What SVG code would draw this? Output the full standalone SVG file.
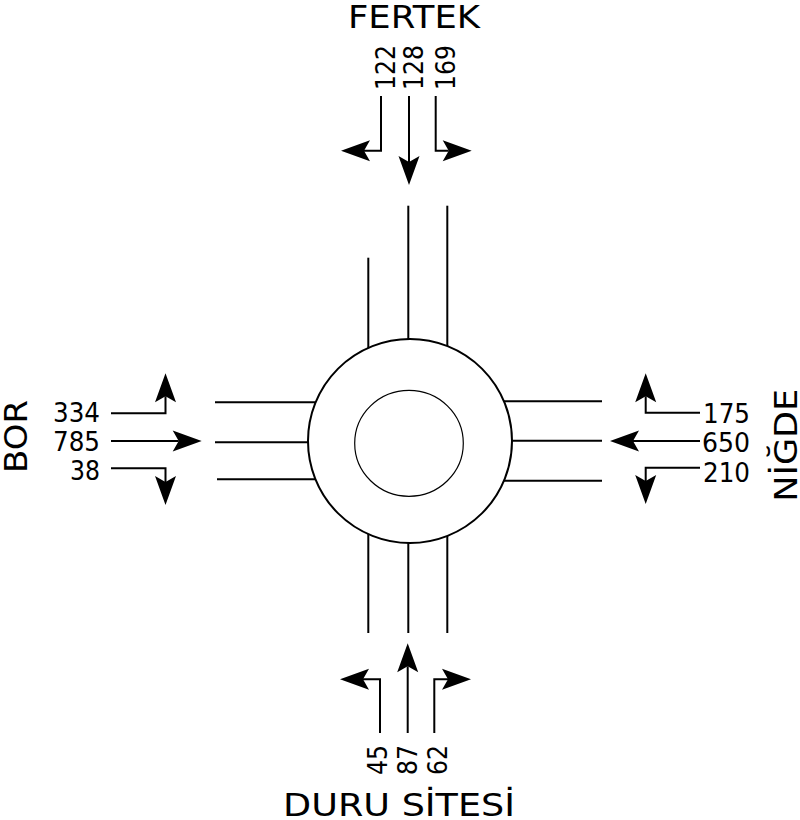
<svg xmlns="http://www.w3.org/2000/svg" width="800" height="820" viewBox="0 0 800 820">
<style>
.road{stroke:#000;stroke-width:2;fill:none}
.flow{stroke:#000;stroke-width:2;fill:none;marker-end:url(#ah)}
.lbl{font-family:"DejaVu Sans","Liberation Sans",sans-serif;font-size:32px;fill:#000}
.num{font-family:"DejaVu Sans","Liberation Sans",sans-serif;font-size:27px;fill:#000}
</style>
<defs>
<marker id="ah" markerUnits="userSpaceOnUse" viewBox="-8 -12 34 24" refX="0" refY="0" markerWidth="34" markerHeight="24" orient="auto" overflow="visible">
<path d="M23,0 L-6,-10.5 L0,0 L-6,10.5 Z" fill="#000"/>
</marker>
</defs>
<rect width="800" height="820" fill="#fff"/>

<g id="roads">
<line class="road" x1="368.3" y1="257.7" x2="368.3" y2="348"/>
<line class="road" x1="408.3" y1="205.7" x2="408.3" y2="340"/>
<line class="road" x1="447.3" y1="205.7" x2="447.3" y2="346.5"/>
<line class="road" x1="368.3" y1="534" x2="368.3" y2="633"/>
<line class="road" x1="408.3" y1="542" x2="408.3" y2="633"/>
<line class="road" x1="447.3" y1="535.5" x2="447.3" y2="633"/>
<line class="road" x1="215" y1="402.3" x2="316" y2="402.3"/>
<line class="road" x1="215" y1="442.3" x2="309" y2="442.3"/>
<line class="road" x1="217" y1="479.3" x2="316" y2="479.3"/>
<line class="road" x1="504" y1="401.3" x2="602" y2="401.3"/>
<line class="road" x1="511" y1="440.7" x2="602" y2="440.7"/>
<line class="road" x1="504" y1="480.7" x2="602" y2="480.7"/>
</g>

<g id="roundabout">
<circle cx="410" cy="441" r="102" fill="#fff" stroke="#000" stroke-width="2"/>
<ellipse cx="409" cy="443.3" rx="54.3" ry="53" fill="#fff" stroke="#000" stroke-width="1.2"/>
</g>

<g id="connectors">
<path class="flow" d="M381,96 V150.7 H364"/>
<path class="flow" d="M409,96 V162"/>
<path class="flow" d="M435.7,96 V150.7 H448.7"/>
<path class="flow" d="M111,413.3 H165.5 V396.3"/>
<path class="flow" d="M111,441 H178.7"/>
<path class="flow" d="M111,468.3 H165.5 V482"/>
<path class="flow" d="M700,412.7 H645.7 V396.3"/>
<path class="flow" d="M700,441 H633"/>
<path class="flow" d="M700,467.7 H645.7 V481"/>
<path class="flow" d="M380,733 V679.3 H363"/>
<path class="flow" d="M407.7,733 V666.3"/>
<path class="flow" d="M434.3,733 V679.3 H448"/>
</g>

<g id="fertek">
<text class="lbl" x="348" y="28" textLength="132" lengthAdjust="spacingAndGlyphs">FERTEK</text>
<text class="num" transform="translate(395,90) rotate(-90)" textLength="45" lengthAdjust="spacingAndGlyphs">122</text>
<text class="num" transform="translate(423.3,90) rotate(-90)" textLength="45" lengthAdjust="spacingAndGlyphs">128</text>
<text class="num" transform="translate(455,90) rotate(-90)" textLength="45" lengthAdjust="spacingAndGlyphs">169</text>
</g>

<g id="bor">
<text class="lbl" transform="translate(27,473) rotate(-90)" textLength="73" lengthAdjust="spacingAndGlyphs">BOR</text>
<text class="num" x="53" y="421.7" textLength="47" lengthAdjust="spacingAndGlyphs">334</text>
<text class="num" x="53" y="450.7" textLength="47" lengthAdjust="spacingAndGlyphs">785</text>
<text class="num" x="70" y="480" textLength="30" lengthAdjust="spacingAndGlyphs">38</text>
</g>

<g id="nigde">
<text class="lbl" transform="translate(797,501.7) rotate(-90)" textLength="113" lengthAdjust="spacingAndGlyphs">NİĞDE</text>
<text class="num" x="703" y="423.3" textLength="47" lengthAdjust="spacingAndGlyphs">175</text>
<text class="num" x="702" y="451.7" textLength="48" lengthAdjust="spacingAndGlyphs">650</text>
<text class="num" x="703" y="481.7" textLength="47" lengthAdjust="spacingAndGlyphs">210</text>
</g>

<g id="duru-sitesi">
<text class="lbl" x="283" y="816" textLength="232" lengthAdjust="spacingAndGlyphs">DURU SİTESİ</text>
<text class="num" transform="translate(386.7,775) rotate(-90)" textLength="30" lengthAdjust="spacingAndGlyphs">45</text>
<text class="num" transform="translate(416.7,775) rotate(-90)" textLength="30" lengthAdjust="spacingAndGlyphs">87</text>
<text class="num" transform="translate(446.7,775) rotate(-90)" textLength="30" lengthAdjust="spacingAndGlyphs">62</text>
</g>
</svg>
